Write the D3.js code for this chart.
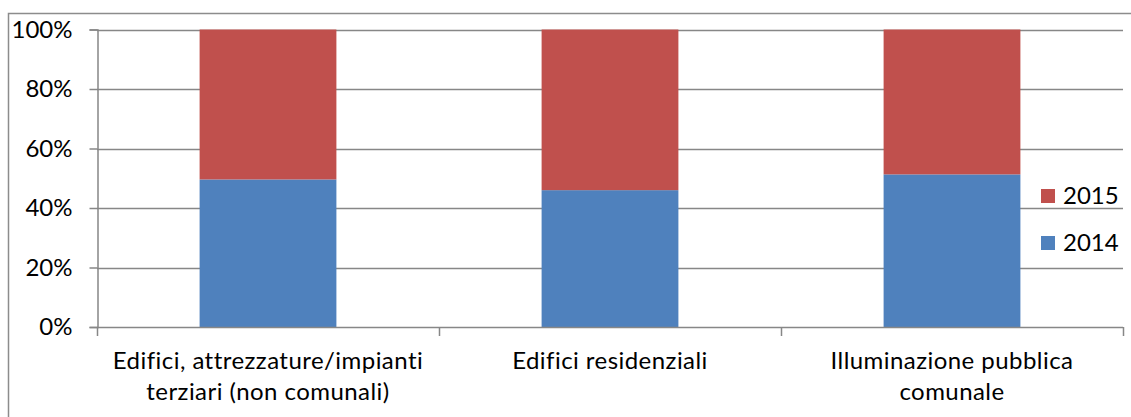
<!DOCTYPE html>
<html>
<head>
<meta charset="utf-8">
<script src="https://cdn.jsdelivr.net/npm/d3@7"></script>
<style>
  body { margin: 0; background: #fff; }
  svg { display: block; }
  text { font-variant-ligatures: none; }
</style>
</head>
<body>
<div class="chart"></div>
<script>
const categories = [
  ["Edifici, attrezzature/impianti", "terziari (non comunali)"],
  ["Edifici residenziali"],
  ["Illuminazione pubblica", "comunale"]
];
const years = ["2014", "2015"];
const values2014 = [49.6, 46.0, 51.3];
const values2015 = [50.4, 54.0, 48.7];
const yTicks = [0, 20, 40, 60, 80, 100];
const colors = { "2014": "#4F81BD", "2015": "#C0504D" };

const width = 1131, height = 417;
const font = "Lato, 'Open Sans', sans-serif";
const fontSize = "24px";

const svg = d3.select(".chart")
  .append("svg")
    .attr("width", width)
    .attr("height", height);

// outer chart border (cropped on right / bottom)
svg.append("rect")
  .attr("x", 8.5)
  .attr("y", 13.5)
  .attr("width", width)
  .attr("height", height)
  .attr("fill", "none")
  .attr("stroke", "#8c8c8c")
  .attr("stroke-width", 1.5);

const keys = categories.map((c, i) => "c" + i);

const xScale = d3.scaleBand()
  .domain(keys)
  .range([97, 1123])
  .paddingInner(0.6)
  .paddingOuter(0.3);

const yScale = d3.scaleLinear()
  .domain([0, 100])
  .range([327, 29.5]);

// gridlines
svg.append("g")
  .selectAll("line")
  .data(yTicks.filter(d => d > 0))
  .join("line")
    .attr("x1", 97)
    .attr("x2", 1123)
    .attr("y1", d => Math.round(yScale(d)) + 0.5)
    .attr("y2", d => Math.round(yScale(d)) + 0.5)
    .attr("stroke", "#878787")
    .attr("stroke-width", 1.5);

// stacked bars
const table = keys.map((k, i) => ({ key: k, "2014": values2014[i], "2015": values2015[i] }));
const stacked = d3.stack().keys(years)(table);

svg.append("g")
  .selectAll("g")
  .data(stacked)
  .join("g")
    .attr("fill", d => colors[d.key])
  .selectAll("rect")
  .data(d => d)
  .join("rect")
    .attr("x", d => xScale(d.data.key))
    .attr("width", xScale.bandwidth())
    .attr("y", d => yScale(d[1]))
    .attr("height", d => yScale(d[0]) - yScale(d[1]));

// y axis
const yAxis = svg.append("g")
  .attr("transform", "translate(97.5,0)")
  .call(d3.axisLeft(yScale)
    .tickValues(yTicks)
    .tickSize(8)
    .tickPadding(17)
    .tickFormat(d => d + "%"));

yAxis.select(".domain").attr("stroke", "#878787").attr("stroke-width", 1.5);
yAxis.selectAll(".tick line").attr("stroke", "#878787").attr("stroke-width", 1.5);
yAxis.selectAll(".tick text")
  .style("font-family", font)
  .style("font-size", fontSize)
  .attr("fill", "#000");

// x axis line and category ticks
svg.append("line")
  .attr("x1", 97).attr("x2", 1123)
  .attr("y1", 327.5).attr("y2", 327.5)
  .attr("stroke", "#878787")
  .attr("stroke-width", 1.5);

const boundaries = [xScale.range()[0]].concat(keys.map(k => xScale(k) - xScale.step() * xScale.paddingOuter() + xScale.step()));
svg.append("g")
  .selectAll("line")
  .data(boundaries)
  .join("line")
    .attr("x1", d => Math.round(d) + 0.5)
    .attr("x2", d => Math.round(d) + 0.5)
    .attr("y1", 327)
    .attr("y2", 336)
    .attr("stroke", "#878787")
    .attr("stroke-width", 1.5);

// category labels
const labels = svg.append("g")
  .selectAll("text")
  .data(categories)
  .join("text")
    .attr("x", (d, i) => xScale(keys[i]) + xScale.bandwidth() / 2)
    .attr("y", 369)
    .attr("text-anchor", "middle")
    .style("font-family", font)
    .style("font-size", fontSize)
    .style("letter-spacing", "0.45px")
    .attr("fill", "#000");

labels.selectAll("tspan")
  .data(d => d)
  .join("tspan")
    .attr("x", function() { return this.parentNode.getAttribute("x"); })
    .attr("dy", (d, i) => i === 0 ? 0 : 31)
    .text(d => d);

// legend
const legendItems = ["2015", "2014"];
const legend = svg.append("g")
  .selectAll("g")
  .data(legendItems)
  .join("g")
    .attr("transform", (d, i) => `translate(1041, ${189 + i * 47})`);

legend.append("rect")
  .attr("width", 14)
  .attr("height", 14)
  .attr("fill", d => colors[d]);

legend.append("text")
  .text(d => d)
  .attr("x", 22)
  .attr("y", 15)
  .style("font-family", font)
  .style("font-size", fontSize)
  .attr("fill", "#000");
</script>
</body>
</html>
